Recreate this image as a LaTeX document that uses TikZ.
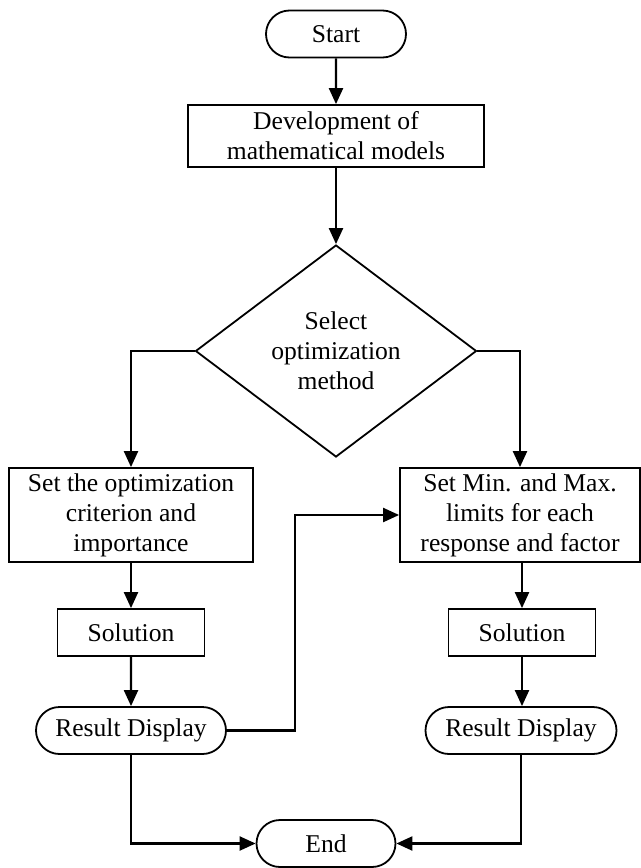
\documentclass[tikz,border=0pt]{standalone}
\usepackage{fontspec}
\setmainfont{Liberation Serif}
\usetikzlibrary{shapes.geometric,shapes.misc,arrows.meta}
\tikzset{
    base/.style={draw,line width=0.9pt,font=\fontsize{12.8}{15}\selectfont,align=center,inner sep=2pt},
    term/.style={base,rounded rectangle,minimum height=23.5pt},
    proc/.style={base,rectangle,minimum height=23.5pt},
    decide/.style={base,diamond,aspect=1.33,inner sep=0pt,minimum width=140.5pt,minimum height=106pt},
    arr/.style={line width=1.1pt,-{Triangle[length=8pt,width=7pt]}},
    link/.style={line width=1.1pt}
}

\begin{document}
\begin{tikzpicture}[x=0.5pt,y=-0.5pt]
    \useasboundingbox (0,0) rectangle (641,868);
    % main column
    \node[term,minimum width=74pt] (start) at (336,34) {Start};
    \node[proc,minimum width=148pt,minimum height=31pt] (dev) at (336,136) {Development of\\mathematical models};
    \node[decide] (sel) at (336,351) {Select\\optimization\\method};
    % left branch
    \node[proc,minimum width=122pt,minimum height=47pt] (crit) at (131,515) {Set the optimization\\criterion and\\importance};
    \node[proc,minimum width=73.5pt] (solL) at (131,632.5) {Solution};
    \node[term,minimum width=99pt] (resL) at (131,730.5) {Result Display};
    % right branch
    \node[proc,minimum width=120pt,minimum height=47pt] (lim) at (520,515) {Set Min. and Max.\\limits for each\\response and factor};
    \node[proc,minimum width=73.5pt] (solR) at (522,632.5) {Solution};
    \node[term,minimum width=99.5pt] (resR) at (521,730.5) {Result Display};
    \node[term,minimum width=73.5pt] (stop) at (326,843.5) {End};
    \coordinate (jog) at (295,730.5);

    \draw[arr] (start) -- (dev);
    \draw[arr] (dev) -- (sel);
    \draw[arr] (sel.west) -| (crit);
    \draw[arr] (sel.east) -| (lim);
    \draw[arr] (crit) -- (solL);
    \draw[arr] (solL) -- (resL);
    \draw[arr] (lim.south -| solR) -- (solR);
    \draw[arr] (solR) -- (resR.north -| solR);
    \draw[arr] (resL.east) -- (jog) |- (lim.west);
    \draw[arr] (resL) |- (stop.west);
    \draw[arr] (resR) |- (stop.east);
\end{tikzpicture}
\end{document}
